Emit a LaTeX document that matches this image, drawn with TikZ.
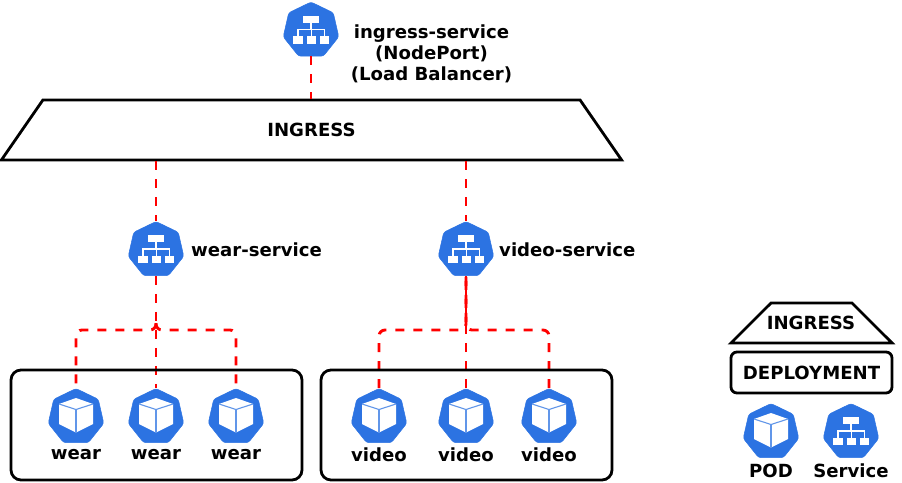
\documentclass[tikz,border=0pt]{standalone}
\usepackage{fontspec}
\setmainfont{DejaVu Sans}
\usetikzlibrary{shapes.geometric}
\definecolor{k8sblue}{HTML}{2C73E2}
\tikzset{
    k8sicon/.style={regular polygon,regular polygon sides=7,fill=k8sblue,draw=k8sblue,
        rounded corners=2.5pt,inner sep=0pt,minimum size=57pt,line width=0.5pt},
    lbl/.style={font=\bfseries\fontsize{18.1}{21}\selectfont,inner sep=0pt,align=center},
    gress/.style={trapezium,trapezium stretches=true,draw=black,line width=2.8pt,line join=miter,inner sep=0pt},
    box/.style={draw=black,line width=2.8pt,rounded corners=10pt,inner sep=0pt},
    link/.style={draw=red,line width=2.9pt,dash pattern=on 9pt off 9pt,rounded corners=6pt},
    svcglyph/.pic={
        \fill[white] (-8,-15) rectangle (8,-8);
        \foreach \x in {-13,0.5,13.5} {
            \fill[white] (\x-4.7,5.5) rectangle (\x+4.7,13);
        }
        \draw[white,line width=1.3pt] (0,-8) -- (0,-1);
        \draw[white,line width=1.3pt] (-13,5.5) -- (-13,-1) -- (13.5,-1) -- (13.5,5.5);
        \draw[white,line width=1.3pt] (0.5,-1) -- (0.5,5.5);
    },
    podglyph/.pic={
        \fill[white] (0,-19) -- (17,-13) -- (17,7) -- (0,15.5) -- (-17,7) -- (-17,-13) -- cycle;
        \draw[k8sblue!75!white,line width=1.1pt] (-17,-13) -- (0,-7.5) -- (17,-13);
        \draw[k8sblue!75!white,line width=1.1pt] (0,-7.5) -- (0,15.5);
    }
}
\begin{document}
\begin{tikzpicture}[x=1pt,y=-1pt]
    \useasboundingbox (0,0) rectangle (902,482);

    % Top service and ingress
    \node[k8sicon] (ingresssvc) at (311,30.5) {};
    \pic at (ingresssvc.center) {svcglyph};
    \node[lbl] (ingresstxt) at (431.5,54) {ingress-service\\(NodePort)\\(Load Balancer)};
    \node[gress,lbl,trapezium angle=63.5,minimum width=621pt,minimum height=60pt] (ingress) at (311.5,130) {INGRESS};
    \draw[link] (ingresssvc.south) -- (ingress.north -| ingresssvc.south);

    % Services
    \node[k8sicon] (wearsvc) at (156,250) {};
    \pic at (wearsvc.center) {svcglyph};
    \node[lbl,anchor=west] (weartxt) at (191,250) {wear-service};
    \node[k8sicon] (videosvc) at (466,250) {};
    \pic at (videosvc.center) {svcglyph};
    \node[lbl,anchor=west] (videotxt) at (499,250) {video-service};
    \draw[link] (ingress.south -| wearsvc.north) -- (wearsvc.north);
    \draw[link] (ingress.south -| videosvc.north) -- (videosvc.north);

    % Wear pods
    \coordinate (wearfork) at (156,323);
    \coordinate (wearbus) at (156,330);
    \foreach \i/\x in {1/76,2/156,3/236} {
        \node[k8sicon] (wearpod\i) at (\x,417) {};
        \pic at (wearpod\i.center) {podglyph};
        \node[lbl] (weartxt\i) at (\x,455) {wear};
    }
    \draw[link] (wearsvc.south) -- (wearpod2.north);
    \draw[link] (wearfork) -- (wearbus) -| (wearpod1.north);
    \draw[link] (wearfork) -- (wearbus) -| (wearpod3.north);

    % Video pods
    \coordinate (videobus) at (466,330);
    \foreach \i/\x in {1/379,2/466,3/549} {
        \node[k8sicon] (videopod\i) at (\x,417) {};
        \pic at (videopod\i.center) {podglyph};
        \node[lbl] (videotxt\i) at (\x,455) {video};
    }
    \draw[link] (videopod2.north) -- (videosvc.south);
    \draw[link] (videopod1.north) |- (videobus) -- (videosvc.south);
    \draw[link] (videopod3.north) |- (videobus) -- (videosvc.south);

    % Deployments
    \node[box,minimum width=291pt,minimum height=110pt] (wearbox) at (156.5,425) {};
    \node[box,minimum width=291pt,minimum height=110pt] (videobox) at (466.5,425) {};

    % Legend
    \node[gress,trapezium angle=63.7,minimum width=161pt,minimum height=40pt] (keygress) at (811.5,323) {\phantom{\rule{1pt}{1pt}}};
    \node[lbl] (keygresstxt) at (811,323) {INGRESS};
    \node[box,rounded corners=6pt,lbl,minimum width=161pt,minimum height=41pt] (keydeploy) at (811.5,372.5) {DEPLOYMENT};
    \node[k8sicon] (keypod) at (771,432) {};
    \pic at (keypod.center) {podglyph};
    \node[lbl] (keypodtxt) at (771,471) {POD};
    \node[k8sicon] (keysvc) at (851,432) {};
    \pic at (keysvc.center) {svcglyph};
    \node[lbl] (keysvctxt) at (851,471) {Service};
\end{tikzpicture}
\end{document}
